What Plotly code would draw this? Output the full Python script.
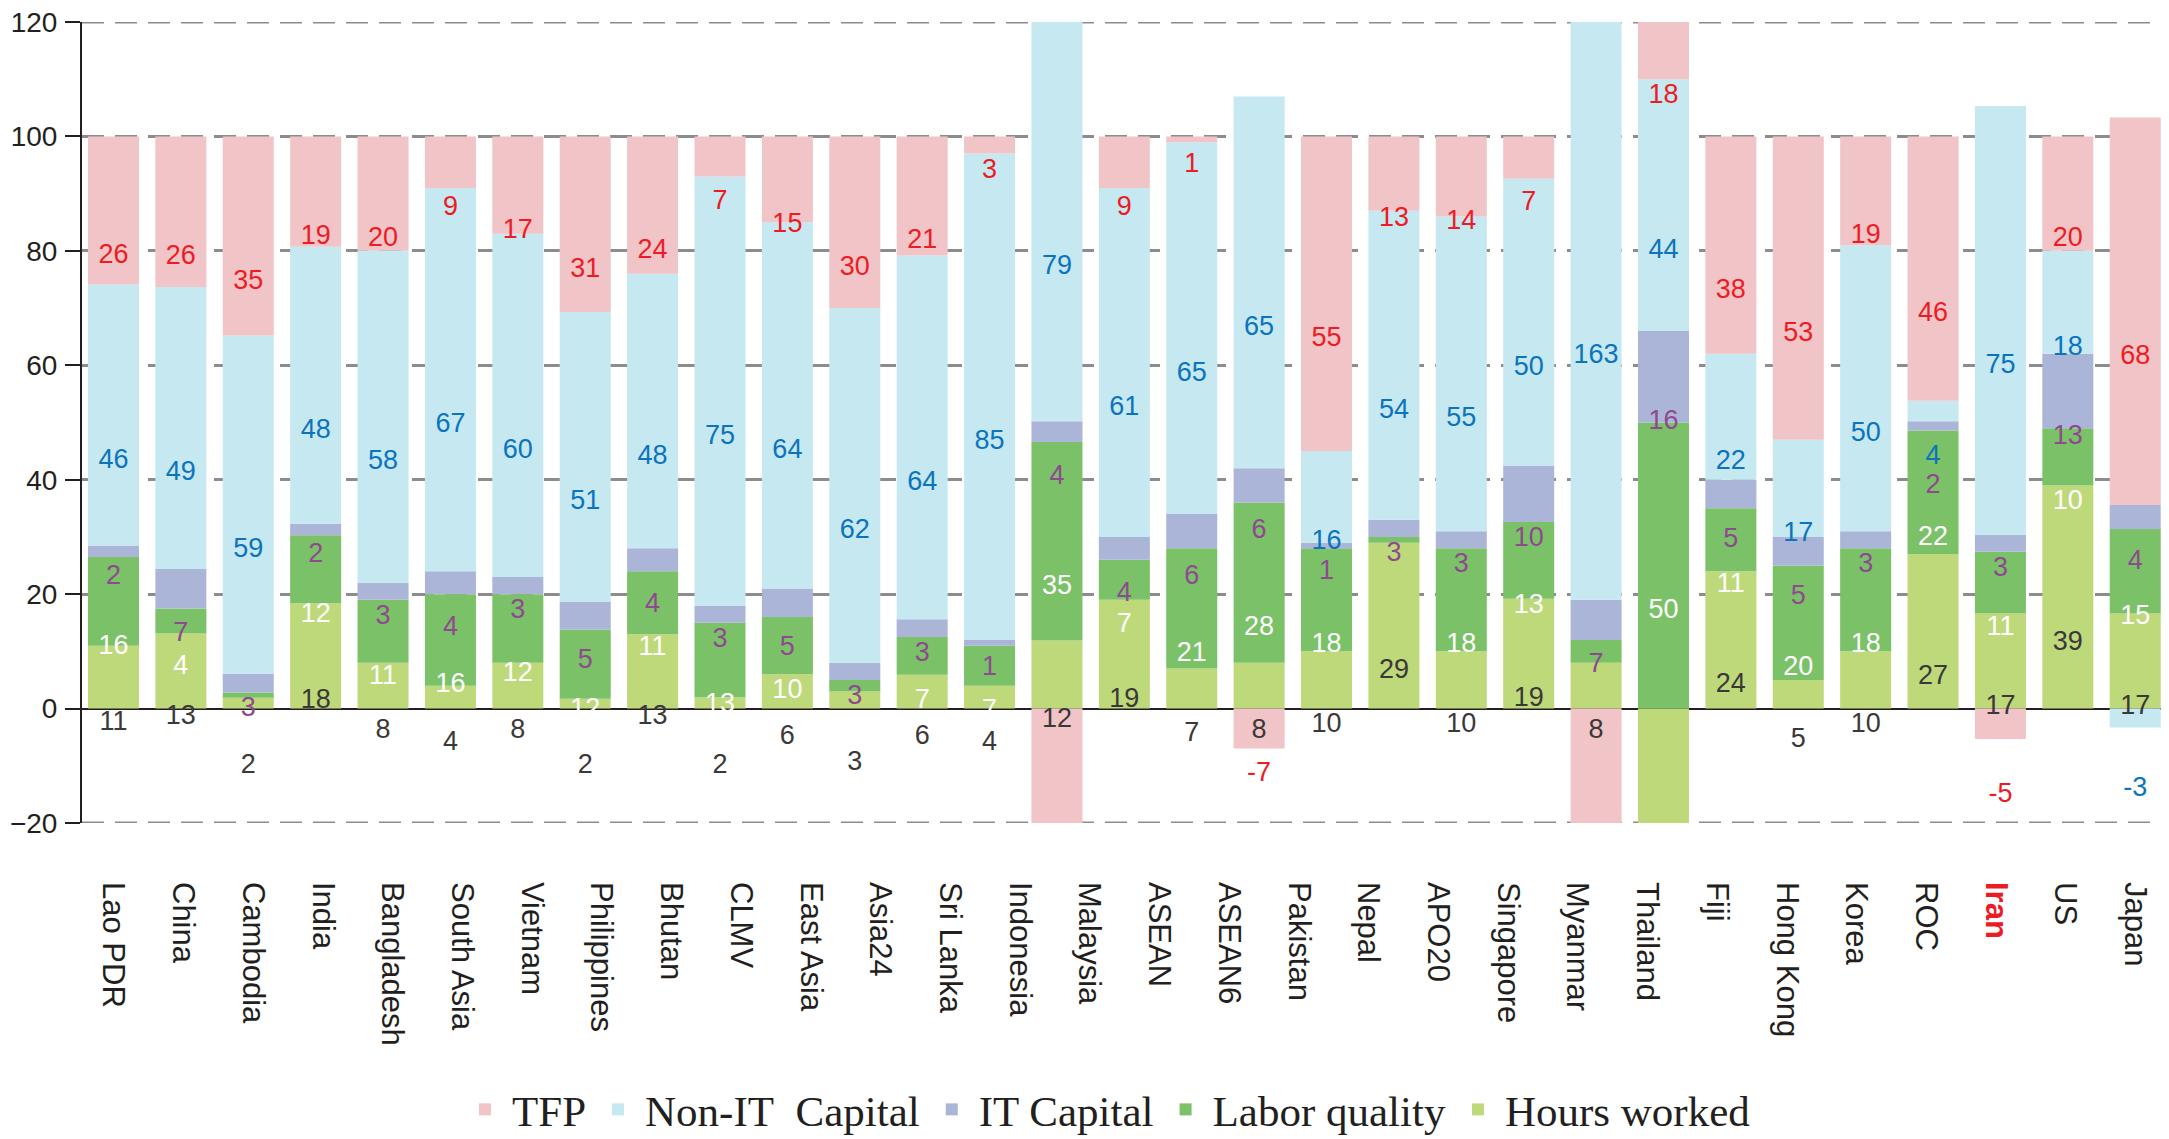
import math
import plotly.graph_objects as go

# 30 tick labels spread across 31 bars (as in the reference)
tick_labels = ["Lao PDR", "China", "Cambodia", "India", "Bangladesh", "South Asia", "Vietnam",
               "Philippines", "Bhutan", "CLMV", "East Asia", "Asia24", "Sri Lanka", "Indonesia",
               "Malaysia", "ASEAN", "ASEAN6", "Pakistan", "Nepal", "APO20", "Singapore", "Myanmar",
               "Thailand", "Fiji", "Hong Kong", "Korea", "ROC", "Iran", "US", "Japan"]

# contribution shares (%)
tfp     = [25.9, 26.3, 34.8, 19.3, 20, 9, 17, 30.7, 24, 7, 15, 30, 20.8, 3, -29.4, 9, 1, -7, 55, 13,
           14, 7.4, -82, 18, 38, 53, 19, 46.2, -5.3, 20, 67.7]
non_it  = [45.6, 49.3, 59.1, 48.4, 58, 67, 60, 50.6, 48, 75, 64, 62, 63.6, 85, 79.2, 61, 65, 65, 16, 54,
           55, 50.1, 163, 44, 22, 17, 50, 3.6, 74.9, 18, -3.3]
it_cap  = [2, 6.9, 3.3, 2.0, 3, 4, 3, 4.9, 4, 3, 5, 3, 3.1, 1, 3.6, 4, 6, 6, 1, 3,
           3, 9.9, 7, 16, 5, 5, 3, 1.6, 3, 13, 4.2]
labor_q = [15.5, 4.4, 0.9, 11.9, 11, 16, 12, 12.1, 11, 13, 10, 2, 6.6, 7, 34.7, 7, 21, 28, 18, 1,
           18, 13.4, 4, 50, 11, 20, 18, 21.6, 10.8, 10, 14.8]
hours   = [11, 13.1, 1.9, 18.4, 8, 4, 8, 1.7, 13, 2, 6, 3, 5.9, 4, 11.9, 19, 7, 8, 10, 29,
           10, 19.2, 8, -27, 24, 5, 10, 27, 16.6, 39, 16.6]

# segments whose value is not printed in the reference
unlabeled = {("LQ", 2), ("LQ", 11), ("LQ", 19), ("LQ", 22)}

n_bars = len(tfp)
x = list(range(n_bars))
YMIN, YMAX = -20, 120
GRID = dict(color="#8C8C8C", width=3, dash="22px,11px")


def rnd(v):
    return int(math.copysign(math.floor(abs(v) + 0.5), v))


# stacking order (bottom -> top): key, name, values, bar colour, label colour, offset for thin segments
series = [
    ("HW", "Hours worked", hours, "#BED97A", "#3B3838", 11),
    ("LQ", "Labor quality", labor_q, "#7BC168", "#FFFFFF", 8),
    ("IT", "IT Capital", it_cap, "#ABB5D8", "#8E4A8F", 4.5),
    ("NIT", "Non-IT\u00a0 Capital", non_it, "#C5E8F1", "#0B74BC", 8),
    ("TFP", "TFP", tfp, "#F1C4C7", "#ED1C24", 4.5),
]

fig = go.Figure()
for key, name, vals, col, tcol, small in series:
    fig.add_trace(go.Bar(x=x, y=vals, name=name, marker=dict(color=col, line=dict(width=0)),
                         hoverinfo="skip"))

# label positions follow the stacked segments (with the reference's downward offset)
labels = {key: [] for key, *_ in series}
per_bar_pos = [[] for _ in range(n_bars)]
pos_base = [0.0] * n_bars
neg_base = [0.0] * n_bars
for key, name, vals, col, tcol, small in series:
    for i, v in enumerate(vals):
        if v >= 0:
            lo, hi = pos_base[i], pos_base[i] + v
            pos_base[i] = hi
        else:
            lo, hi = neg_base[i] + v, neg_base[i]
            neg_base[i] = lo
        if (key, i) in unlabeled:
            continue
        lo_c, hi_c = max(lo, YMIN), min(hi, YMAX)
        c = (lo_c + hi_c) / 2
        if v < 0:
            yy = YMIN - 4.6 if lo < YMIN else c - (12.5 if abs(v) <= 5.5 else 8)
        elif abs(v) < 3.5:
            yy = c - small
        else:
            yy = c - 8
        entry = {"i": i, "y": yy, "t": str(rnd(v))}
        labels[key].append(entry)
        if v >= 0:
            per_bar_pos[i].append(entry)

# keep labels of one bar from overlapping (top to bottom)
for entries in per_bar_pos:
    prev = None
    for e in reversed(entries):
        if prev is not None and e["y"] > prev - 5.2:
            e["y"] = prev - 5.2
        prev = e["y"]

for key, name, vals, col, tcol, small in series:
    ent = labels[key]
    fig.add_trace(go.Scatter(x=[e["i"] for e in ent], y=[e["y"] for e in ent],
                             text=[e["t"] for e in ent], mode="text", showlegend=False,
                             cliponaxis=False, hoverinfo="skip",
                             textfont=dict(family="Liberation Sans, Arial, sans-serif",
                                           size=27, color=tcol)))

ticktext = ['<span style="color:#ED1C24"><b>Iran</b></span>' if t == "Iran" else t
            for t in tick_labels]
tickvals = [j * (n_bars - 1) / (len(tick_labels) - 1) for j in range(len(tick_labels))]

# dashed grid lines at the two range ends (plotly omits grid lines on the plot edges)
for yv in (YMIN, YMAX):
    fig.add_shape(type="line", xref="paper", x0=0, x1=1, yref="y", y0=yv, y1=yv,
                  line=GRID, layer="below")

fig.update_layout(
    width=2169, height=1139, autosize=False,
    margin=dict(l=74, r=0, t=14, b=324),
    plot_bgcolor="white", paper_bgcolor="white",
    barmode="relative", bargap=0.243,
    font=dict(family="Liberation Sans, Arial, sans-serif", color="#231F20"),
    legend=dict(orientation="h", traceorder="reversed", x=0.489, xanchor="center",
                yref="container", y=0.033, yanchor="middle",
                font=dict(family="Liberation Serif, Times New Roman, serif", size=43, color="#231F20"),
                itemwidth=44, bgcolor="rgba(0,0,0,0)"),
    showlegend=True,
)
fig.update_xaxes(range=[-0.467, 30.62], tickmode="array", tickvals=tickvals, ticktext=ticktext,
                 tickangle=90, showgrid=False, zeroline=False, showline=False, ticks="",
                 ticklabelstandoff=58, ticklabeloverflow="allow", automargin=False,
                 tickfont=dict(family="Liberation Sans, Arial, sans-serif", size=31, color="#231F20"))
fig.update_yaxes(range=[YMIN, YMAX], tickmode="array", tickvals=list(range(-20, 121, 20)),
                 showgrid=True, gridcolor=GRID["color"], gridwidth=GRID["width"], griddash=GRID["dash"],
                 zeroline=True, zerolinecolor="#231F20", zerolinewidth=2,
                 showline=True, linecolor="#231F20", linewidth=2,
                 ticks="outside", ticklen=15, tickwidth=2, tickcolor="#231F20",
                 ticklabeloverflow="allow", automargin=False, ticklabelstandoff=2,
                 tickfont=dict(family="Liberation Sans, Arial, sans-serif", size=28, color="#231F20"))

fig.write_html("out.html")
